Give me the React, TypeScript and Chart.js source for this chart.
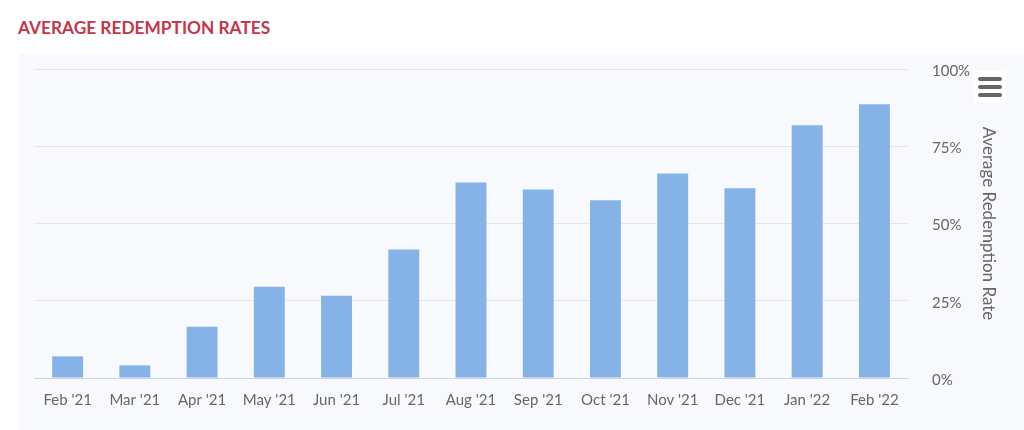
import React, { useEffect, useRef } from "react";
import { Chart, registerables } from "chart.js";

Chart.register(...registerables);

const categories = ["Feb '21", "Mar '21", "Apr '21", "May '21", "Jun '21", "Jul '21", "Aug '21", "Sep '21", "Oct '21", "Nov '21", "Dec '21", "Jan '22", "Feb '22"];
const redemptionRates = [7.0, 4.1, 16.6, 29.5, 26.6, 41.6, 63.3, 61.0, 57.5, 66.2, 61.4, 81.8, 88.6];
const yTicks = [0, 25, 50, 75, 100];

const FONT = "Lato, 'Noto Sans', sans-serif";

export default function App() {
  const canvasRef = useRef<HTMLCanvasElement | null>(null);

  useEffect(() => {
    const canvas = canvasRef.current;
    if (!canvas) return;
    const chart = new Chart(canvas, {
      type: "bar",
      data: {
        labels: categories,
        datasets: [
          {
            label: "Average Redemption Rate",
            data: redemptionRates,
            backgroundColor: "#85b3e8",
            borderWidth: 0,
            barPercentage: 0.46,
            categoryPercentage: 1,
          },
        ],
      },
      options: {
        responsive: false,
        animation: false,
        maintainAspectRatio: false,
        layout: { padding: { left: 34, top: 69, right: 0, bottom: 0 } },
        plugins: { legend: { display: false }, tooltip: { enabled: false } },
        scales: {
          x: {
            grid: { display: false, drawTicks: false },
            border: { display: true, color: "#ccd6eb", width: 1 },
            ticks: {
              color: "#666666",
              font: { family: FONT, size: 15 },
              padding: 13,
              maxRotation: 0,
              autoSkip: false,
            },
            afterFit: (s: any) => {
              s.height = 52;
            },
          },
          y: {
            position: "right",
            min: 0,
            max: 100,
            afterBuildTicks: (s: any) => {
              s.ticks = yTicks.map((v) => ({ value: v }));
            },
            grid: { color: "#e6e6e6", lineWidth: 1, drawTicks: false },
            border: { display: false },
            ticks: {
              color: "#666666",
              font: { family: FONT, size: 15 },
              padding: 24,
              labelOffset: 2,
              callback: (v: any) => `${v}%`,
            },
            title: {
              display: true,
              text: "Average Redemption Rate",
              color: "#666666",
              font: { family: FONT, size: 17 },
              padding: { top: 25, bottom: 0 },
            },
            afterFit: (s: any) => {
              s.width = 116;
            },
          },
        },
      },
    });
    return () => chart.destroy();
  }, []);

  return (
    <div style={{ position: "absolute", left: 0, top: 0, width: 1024, height: 430, background: "#ffffff", overflow: "hidden" }}>
      <div
        style={{
          position: "absolute",
          left: 18,
          top: 17,
          fontFamily: FONT,
          fontWeight: 700,
          fontSize: 17.3,
          color: "#c4364a",
          whiteSpace: "nowrap",
        }}
      >
        AVERAGE REDEMPTION RATES
      </div>
      <div style={{ position: "absolute", left: 19, top: 54, width: 1005, height: 376, background: "#f7f9fd" }} />
      <canvas ref={canvasRef} width={1024} height={430} style={{ position: "absolute", left: 0, top: 0 }} />
      <div
        style={{
          position: "absolute",
          left: 973,
          top: 71,
          width: 34,
          height: 32,
          background: "#ffffff",
          borderRadius: 3,
        }}
      >
        {[6, 14, 22].map((t) => (
          <div
            key={t}
            style={{ position: "absolute", left: 5, top: t, width: 24, height: 4, borderRadius: 2, background: "#666666" }}
          />
        ))}
      </div>
    </div>
  );
}
